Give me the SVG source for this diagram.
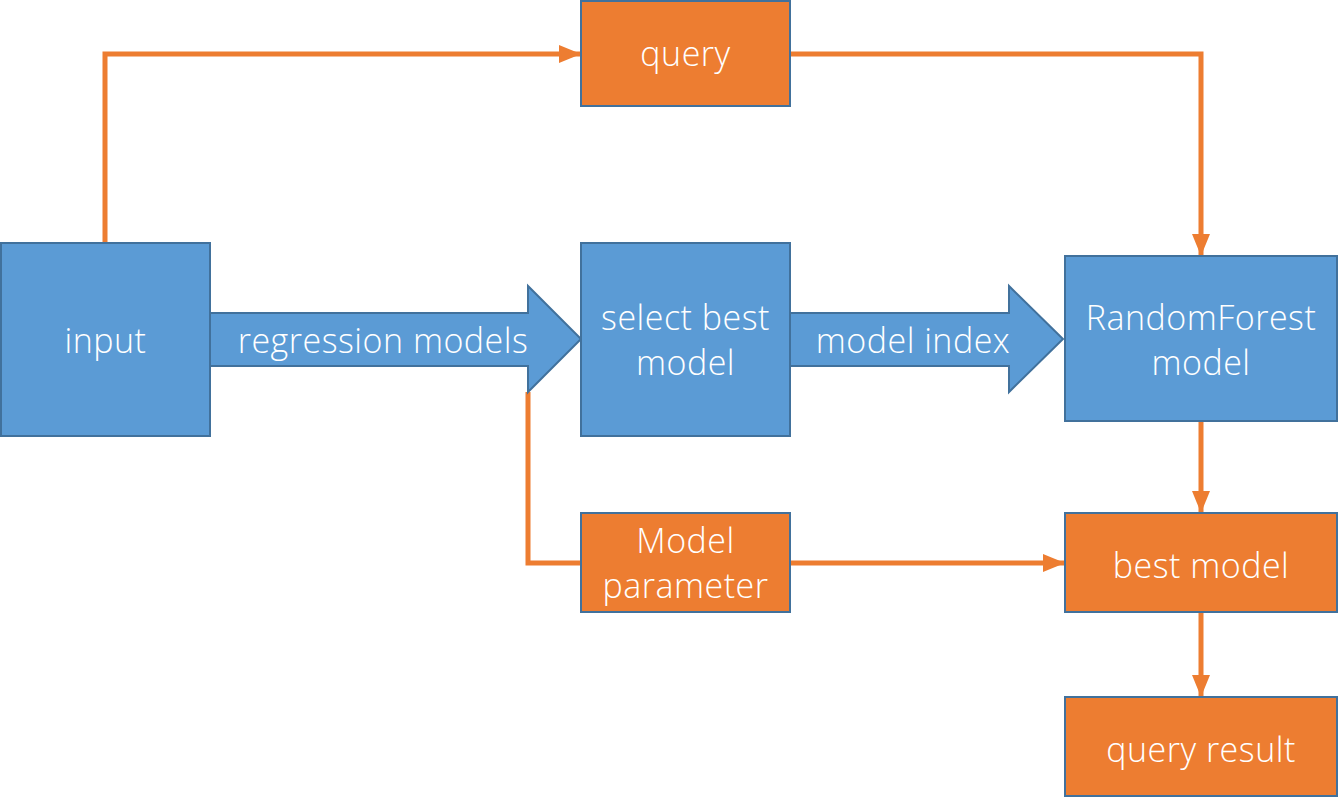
<svg xmlns="http://www.w3.org/2000/svg" width="1341" height="798" viewBox="0 0 1341 798">
<style>
.b{fill:#5B9BD5;stroke:#41719C;stroke-width:2}
.o{fill:#ED7D31;stroke:#41719C;stroke-width:2}
.t{fill:#fff;font-family:"Open Sans","Liberation Sans",sans-serif;font-size:34px;font-weight:300;letter-spacing:0.5px;text-anchor:middle}
.c{fill:none;stroke:#ED7D31;stroke-width:5}
</style>
<defs>
<marker id="ah" markerUnits="userSpaceOnUse" markerWidth="22" markerHeight="22" viewBox="0 0 22 22" refX="22" refY="11" orient="auto">
<path d="M0,2 L22,11 L0,20 Z" fill="#ED7D31"/>
</marker>
</defs>
<g id="connectors">
<path class="c" d="M105,243 V54 H581" marker-end="url(#ah)"/>
<path class="c" d="M790,54 H1201 V256" marker-end="url(#ah)"/>
<path class="c" d="M528,392 V563 H581"/>
<path class="c" d="M790,563 H1065" marker-end="url(#ah)"/>
<path class="c" d="M1201,421 V513" marker-end="url(#ah)"/>
<path class="c" d="M1201,612 V697" marker-end="url(#ah)"/>
</g>
<g id="arrow-regression">
<path class="b" d="M210,313 H528 V286 L581,339 L528,392 V366 H210 Z"/>
<text class="t" x="383" y="353">regression models</text>
</g>
<g id="arrow-index">
<path class="b" d="M790,313 H1009 V286 L1063,339 L1009,392 V366 H790 Z"/>
<text class="t" x="913" y="353">model index</text>
</g>
<g id="input">
<rect class="b" x="1" y="243" width="209" height="193"/>
<text class="t" x="105.5" y="353">input</text>
</g>
<g id="query">
<rect class="o" x="581" y="1" width="209" height="105"/>
<text class="t" x="685.5" y="66">query</text>
</g>
<g id="select">
<rect class="b" x="581" y="243" width="209" height="193"/>
<text class="t" x="685.5" y="330">select best</text>
<text class="t" x="685.5" y="375">model</text>
</g>
<g id="randomforest">
<rect class="b" x="1065" y="256" width="272" height="165"/>
<text class="t" x="1201" y="330">RandomForest</text>
<text class="t" x="1201" y="375">model</text>
</g>
<g id="modelparam">
<rect class="o" x="581" y="513" width="209" height="99"/>
<text class="t" x="685.5" y="553">Model</text>
<text class="t" x="685.5" y="598">parameter</text>
</g>
<g id="bestmodel">
<rect class="o" x="1065" y="513" width="272" height="99"/>
<text class="t" x="1201" y="578">best model</text>
</g>
<g id="queryresult">
<rect class="o" x="1065" y="697" width="272" height="99"/>
<text class="t" x="1201" y="762">query result</text>
</g>
</svg>
